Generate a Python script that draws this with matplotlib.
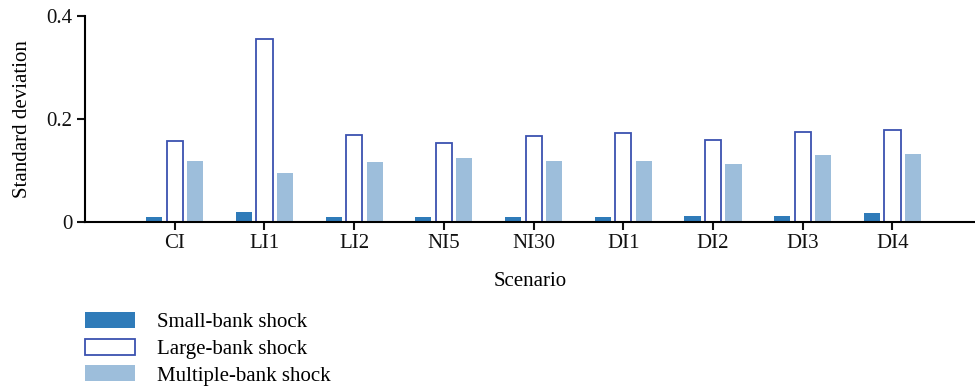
import numpy as np
import matplotlib.pyplot as plt

plt.rcParams['font.family'] = ['Liberation Serif', 'DejaVu Serif']

scenarios = ['CI', 'LI1', 'LI2', 'NI5', 'NI30', 'DI1', 'DI2', 'DI3', 'DI4']
small_bank = [0.010, 0.019, 0.010, 0.010, 0.010, 0.010, 0.011, 0.011, 0.017]
large_bank = [0.157, 0.356, 0.168, 0.154, 0.167, 0.173, 0.159, 0.175, 0.178]
multi_bank = [0.118, 0.096, 0.117, 0.125, 0.119, 0.119, 0.113, 0.130, 0.133]

x = np.arange(len(scenarios))
w = 0.18
gap = 0.228

fig = plt.figure(figsize=(9.75, 3.87), dpi=100)
ax = fig.add_axes([85/975, 165/387, 890/975, 206/387])

b1 = ax.bar(x - gap, small_bank, w, color='#2f7bb9', label='Small-bank shock')
b2 = ax.bar(x, large_bank, w, facecolor='white', edgecolor='#3b52b0',
            linewidth=1.3, label='Large-bank shock')
b3 = ax.bar(x + gap, multi_bank, w, color='#9dbedb', label='Multiple-bank shock')

ax.set_xlim(-1.0, 8.92)
ax.set_ylim(0, 0.4)
ax.set_yticks([0, 0.2, 0.4])
ax.set_yticklabels(['0', '0.2', '0.4'])
ax.set_xticks(x)
ax.set_xticklabels(scenarios)

for s in ['top', 'right']:
    ax.spines[s].set_visible(False)
ax.spines['left'].set_linewidth(1.5)
ax.spines['bottom'].set_linewidth(1.5)
ax.tick_params(axis='both', direction='out', length=6, width=1.5,
               labelsize=15, colors='#111111', pad=3)

ax.set_xlabel('Scenario', fontsize=15, labelpad=13)
ax.set_ylabel('Standard deviation', fontsize=15, labelpad=10)

fig.legend(handles=[b1, b2, b3], loc='upper left',
           bbox_to_anchor=(85/975, 1 - 312/387), frameon=False,
           fontsize=15, handlelength=2.4, handleheight=0.82,
           labelspacing=0.3, handletextpad=1.05,
           borderpad=0, borderaxespad=0)

fig.savefig('out.png', dpi=100)
